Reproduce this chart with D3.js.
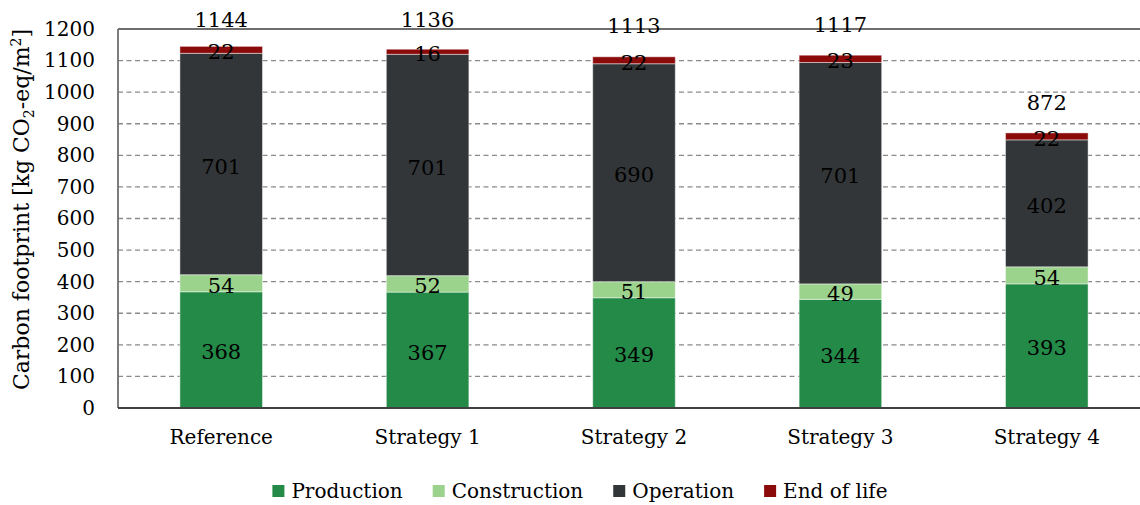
<!DOCTYPE html>
<html>
<head>
<meta charset="utf-8">
<script src="https://cdn.jsdelivr.net/npm/d3@7"></script>
<style>
  html, body { margin: 0; padding: 0; background: #ffffff; }
  svg { display: block; }
  text { font-family: "DejaVu Serif", "Liberation Serif", serif; fill: #000; }
</style>
</head>
<body>
<svg id="chart" width="1140" height="505"></svg>
<script>
// Carbon footprint per life-cycle stage for each design strategy
const categories = ["Reference", "Strategy 1", "Strategy 2", "Strategy 3", "Strategy 4"];
const seriesNames = ["Production", "Construction", "Operation", "End of life"];
const production   = [368, 367, 349, 344, 393];
const construction = [54, 52, 51, 49, 54];
const operation    = [701, 701, 690, 701, 402];
const endOfLife    = [22, 16, 22, 23, 22];
const totals       = [1144, 1136, 1113, 1117, 872];
const yTicks = [0, 100, 200, 300, 400, 500, 600, 700, 800, 900, 1000, 1100, 1200];
const colors = ["#248a48", "#9bd28c", "#333638", "#8b0b0b"];

const svg = d3.select("#chart");
const plot = { left: 118, right: 1150, top: 29, bottom: 408 };

const x = d3.scaleBand()
  .domain(categories)
  .range([plot.left, plot.right])
  .paddingInner(0.6)
  .paddingOuter(0.3);

const y = d3.scaleLinear()
  .domain([0, 1200])
  .range([plot.bottom, plot.top]);

// Dashed horizontal gridlines
svg.append("g")
  .selectAll("line")
  .data(yTicks.filter(t => t > 0 && t < 1200))
  .join("line")
  .attr("x1", plot.left).attr("x2", plot.right)
  .attr("y1", d => y(d)).attr("y2", d => y(d))
  .attr("stroke", "#8a8a8a")
  .attr("stroke-width", 1.3)
  .attr("stroke-dasharray", "5,3.5");

// Plot frame: top and left edges
svg.append("line")
  .attr("x1", plot.left).attr("x2", plot.right)
  .attr("y1", y(1200)).attr("y2", y(1200))
  .attr("stroke", "#6e6e6e").attr("stroke-width", 1.8);
svg.append("line")
  .attr("x1", plot.left).attr("x2", plot.left)
  .attr("y1", y(1200)).attr("y2", plot.bottom)
  .attr("stroke", "#6e6e6e").attr("stroke-width", 1.8);

// Stacked data
const rows = categories.map((c, i) => ({
  category: c,
  Production: production[i],
  Construction: construction[i],
  Operation: operation[i],
  "End of life": endOfLife[i]
}));
const stacked = d3.stack().keys(seriesNames)(rows);

const layers = svg.append("g")
  .selectAll("g")
  .data(stacked)
  .join("g")
  .attr("fill", (d, i) => colors[i]);

layers.selectAll("rect")
  .data(d => d)
  .join("rect")
  .attr("x", d => x(d.data.category))
  .attr("width", x.bandwidth())
  .attr("y", d => y(d[1]))
  .attr("height", d => y(d[0]) - y(d[1]))
  .attr("stroke", "#ffffff")
  .attr("stroke-opacity", 0.45)
  .attr("stroke-width", 1);

// Segment value labels
const fs = 20;
const numFs = 21;
layers.selectAll("text")
  .data(d => d.map(s => ({ s, v: s[1] - s[0] })))
  .join("text")
  .attr("x", d => x(d.s.data.category) + x.bandwidth() / 2)
  .attr("y", d => (y(d.s[0]) + y(d.s[1])) / 2 + numFs * 0.36 + 2)
  .attr("text-anchor", "middle")
  .attr("font-size", numFs)
  .text(d => d.v);

// Totals above each bar
svg.append("g")
  .selectAll("text")
  .data(categories.map((c, i) => ({ c, t: totals[i] })))
  .join("text")
  .attr("x", d => x(d.c) + x.bandwidth() / 2)
  .attr("y", d => Math.max(y(d.t) - 23, 27))
  .attr("text-anchor", "middle")
  .attr("font-size", numFs)
  .text(d => d.t);

// Bottom axis line
svg.append("line")
  .attr("x1", plot.left).attr("x2", plot.right)
  .attr("y1", plot.bottom).attr("y2", plot.bottom)
  .attr("stroke", "#404040").attr("stroke-width", 2.2);

// Y axis tick labels
const yAxis = d3.axisLeft(y).tickValues(yTicks).tickFormat(d3.format("d")).tickSize(0).tickPadding(23);
const gy = svg.append("g").attr("transform", `translate(${plot.left},0)`).call(yAxis);
gy.select(".domain").remove();
gy.selectAll("text")
  .attr("font-family", "DejaVu Serif, Liberation Serif, serif")
  .attr("font-size", fs)
  .attr("fill", "#000");

// X axis category labels
const xAxis = d3.axisBottom(x).tickSize(0).tickPadding(22);
const gx = svg.append("g").attr("transform", `translate(0,${plot.bottom})`).call(xAxis);
gx.select(".domain").remove();
gx.selectAll("text")
  .attr("font-family", "DejaVu Serif, Liberation Serif, serif")
  .attr("font-size", fs)
  .attr("fill", "#000");

// Y axis title with subscript and superscript
const title = svg.append("text")
  .attr("transform", `translate(29,${(plot.top + plot.bottom) / 2 - 9}) rotate(-90)`)
  .attr("text-anchor", "middle")
  .attr("font-size", 22);
title.append("tspan").text("Carbon footprint [kg CO");
title.append("tspan").attr("font-size", 14).attr("dy", 5).text("2");
title.append("tspan").attr("dy", -5).text("-eq/m");
title.append("tspan").attr("font-size", 14).attr("dy", -8).text("2");
title.append("tspan").attr("dy", 8).text("]");

// Legend
const legend = svg.append("g");
const items = legend.selectAll("g")
  .data(seriesNames)
  .join("g");
items.append("rect")
  .attr("width", 12).attr("height", 12)
  .attr("y", 485)
  .attr("fill", (d, i) => colors[i]);
items.append("text")
  .attr("x", 19)
  .attr("y", 498)
  .attr("font-size", fs)
  .text(d => d);

const gap = 30;
let widths = [];
items.each(function () {
  widths.push(19 + d3.select(this).select("text").node().getComputedTextLength());
});
const totalW = d3.sum(widths) + gap * (widths.length - 1);
let cx = 580 - totalW / 2;
items.attr("transform", (d, i) => {
  const t = `translate(${cx},0)`;
  cx += widths[i] + gap;
  return t;
});
</script>
</body>
</html>
